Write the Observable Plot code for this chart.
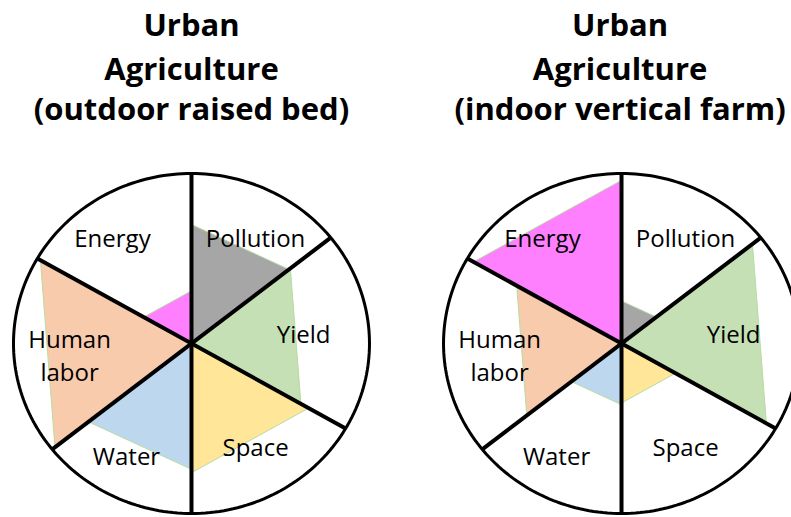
<!DOCTYPE html>
<html><head><meta charset="utf-8">
<script src="https://cdn.jsdelivr.net/npm/d3@7"></script>
<script src="https://cdn.jsdelivr.net/npm/@observablehq/plot@0.6"></script>
<style>
body{margin:0;background:#fff}
#chart{width:791px;height:517px;overflow:hidden}
</style>
</head><body><div id="chart"></div>
<script>
// ---- data ----
const categories = ["Pollution", "Energy", "Human labor", "Water", "Space", "Yield"];
const outdoorValues = [0.70, 0.31, 0.98, 0.74, 0.76, 0.71];
const indoorValues  = [0.25, 0.96, 0.68, 0.36, 0.35, 0.94];
const categoryColors = ["#a6a6a6", "#ff80ff", "#f8cbad", "#bdd7ee", "#ffe699", "#c5e0b4"];
const panelTitles = [
  ["Urban", "Agriculture", "(outdoor raised bed)"],
  ["Urban", "Agriculture", "(indoor vertical farm)"]
];

// ---- layout ----
const sectorStart = [38.5, 90, 150, 218.5, 270, 330];
const sectorEnd   = [90, 150, 218.5, 270, 330, 398.5];
const panelCenter = [0, 2.416];
const titleCenter = [0, 2.408];
const labelOffset = [[0.36, 0.63], [-0.444, 0.63], [-0.685, -0.062], [-0.365, -0.653], [0.36, -0.60], [0.63, 0.065]];
const titleY = [1.87, 1.61, 1.375];
const panels = [outdoorValues, indoorValues];
const rad = a => a * Math.PI / 180;

const circlePts = [];
panels.forEach((_, p) => {
  for (let k = 0; k < 240; k++) {
    const t = 2 * Math.PI * k / 240;
    circlePts.push({panel: p, x: panelCenter[p] + Math.cos(t), y: Math.sin(t)});
  }
});

const triPts = [];
panels.forEach((vals, p) => {
  categories.forEach((c, i) => {
    const v = vals[i], key = p + "-" + c, color = categoryColors[i];
    triPts.push({key, color, x: panelCenter[p], y: 0});
    triPts.push({key, color, x: panelCenter[p] + v * Math.cos(rad(sectorStart[i])), y: v * Math.sin(rad(sectorStart[i]))});
    triPts.push({key, color, x: panelCenter[p] + v * Math.cos(rad(sectorEnd[i])), y: v * Math.sin(rad(sectorEnd[i]))});
  });
});

const diameters = [];
panels.forEach((_, p) => {
  [90, 38.5, 150].forEach(a => {
    diameters.push({
      x1: panelCenter[p] + Math.cos(rad(a)), y1: Math.sin(rad(a)),
      x2: panelCenter[p] - Math.cos(rad(a)), y2: -Math.sin(rad(a))
    });
  });
});

const labels = [];
panels.forEach((_, p) => {
  categories.forEach((c, i) => {
    labels.push({text: c.replace(" ", "\n"), x: panelCenter[p] + labelOffset[i][0], y: labelOffset[i][1]});
  });
});

const titles = [];
panelTitles.forEach((lines, p) => {
  lines.forEach((t, j) => titles.push({text: t, x: titleCenter[p], y: titleY[j]}));
});

const chart = Plot.plot({
  width: 791,
  height: 517,
  margin: 0,
  x: {domain: [-1.073, 3.371], axis: null},
  y: {domain: [-1.0235, 2.0176], axis: null},
  color: {type: "identity"},
  style: {background: "white", fontFamily: "'Open Sans', Lato, sans-serif"},
  marks: [
    Plot.line(circlePts, {x: "x", y: "y", z: "panel", fill: "white", stroke: "none", curve: "linear-closed"}),
    Plot.line(triPts, {x: "x", y: "y", z: "key", fill: "color", stroke: "#b9dba3", strokeWidth: 1, curve: "linear-closed"}),
    Plot.link(diameters, {x1: "x1", y1: "y1", x2: "x2", y2: "y2", stroke: "black", strokeWidth: 4}),
    Plot.line(circlePts, {x: "x", y: "y", z: "panel", stroke: "black", strokeWidth: 3, curve: "linear-closed"}),
    Plot.text(labels, {x: "x", y: "y", text: "text", fontSize: 24, fill: "black", lineHeight: 1.38, lineAnchor: "middle"}),
    Plot.text(titles, {x: "x", y: "y", text: "text", fontSize: 31, fontWeight: "bold", fill: "black", lineAnchor: "middle"})
  ]
});
document.getElementById("chart").appendChild(chart);
</script>
</body></html>
